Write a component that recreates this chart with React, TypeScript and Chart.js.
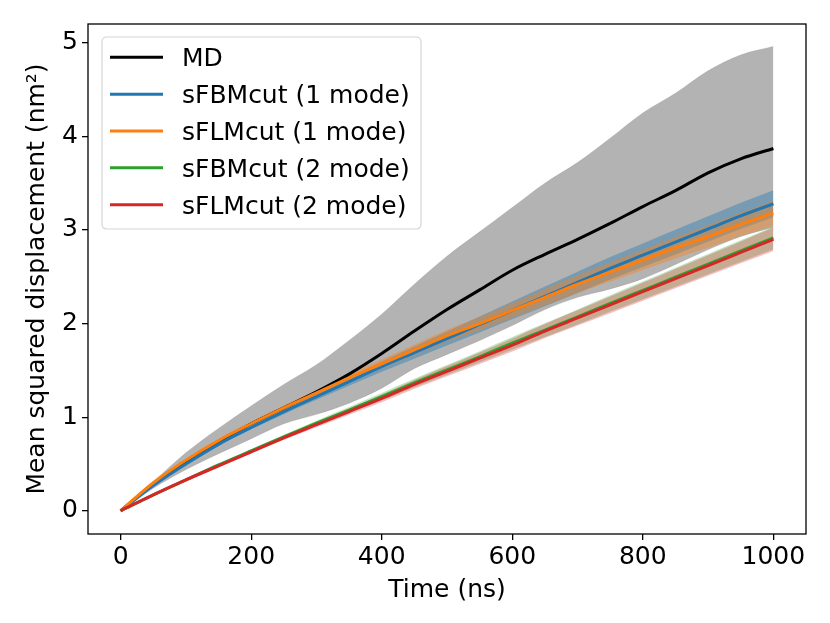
import React, { useEffect, useRef } from 'react';
import { Chart, registerables } from 'chart.js';

Chart.register(...registerables);

// ---- data ----
const times = [0, 50, 100, 150, 200, 250, 300, 350, 400, 450, 500, 550, 600, 650, 700, 750, 800, 850, 900, 950, 1000];

const mdMean = [0, 0.29, 0.53, 0.74, 0.93, 1.1, 1.27, 1.46, 1.68, 1.92, 2.15, 2.36, 2.57, 2.74, 2.9, 3.07, 3.25, 3.42, 3.61, 3.76, 3.87];
const mdUpper = [0, 0.31, 0.62, 0.88, 1.12, 1.35, 1.56, 1.82, 2.1, 2.42, 2.72, 2.98, 3.24, 3.5, 3.72, 3.98, 4.25, 4.46, 4.7, 4.87, 4.96];
const mdLower = [0, 0.24, 0.44, 0.61, 0.77, 0.93, 1.03, 1.15, 1.31, 1.52, 1.67, 1.82, 1.98, 2.15, 2.28, 2.37, 2.48, 2.63, 2.79, 2.93, 3.03];

const fbm1 = [0, 0.27, 0.5, 0.71, 0.89, 1.06, 1.22, 1.38, 1.54, 1.69, 1.84, 1.99, 2.14, 2.29, 2.44, 2.59, 2.73, 2.87, 3.01, 3.15, 3.28];
const fbm1Half = [0, 0.005, 0.01, 0.015, 0.02, 0.028, 0.035, 0.045, 0.055, 0.065, 0.075, 0.085, 0.095, 0.105, 0.113, 0.12, 0.126, 0.132, 0.137, 0.141, 0.145];

const flm1 = [0, 0.3, 0.54, 0.75, 0.93, 1.1, 1.26, 1.42, 1.57, 1.72, 1.87, 2.0, 2.14, 2.28, 2.42, 2.55, 2.68, 2.81, 2.93, 3.06, 3.18];
const flm1Half = [0, 0.005, 0.01, 0.015, 0.02, 0.025, 0.03, 0.04, 0.048, 0.056, 0.064, 0.072, 0.08, 0.088, 0.095, 0.102, 0.108, 0.114, 0.12, 0.127, 0.135];

const fbm2 = [0, 0.17, 0.33, 0.49, 0.64, 0.79, 0.935, 1.075, 1.22, 1.365, 1.505, 1.645, 1.79, 1.93, 2.07, 2.215, 2.355, 2.495, 2.635, 2.775, 2.915];
const fbm2Half = [0, 0.004, 0.008, 0.012, 0.017, 0.022, 0.027, 0.033, 0.039, 0.045, 0.052, 0.059, 0.066, 0.073, 0.08, 0.087, 0.094, 0.101, 0.108, 0.114, 0.12];

const flm2 = [0, 0.17, 0.33, 0.48, 0.63, 0.78, 0.92, 1.06, 1.2, 1.35, 1.49, 1.63, 1.77, 1.92, 2.06, 2.2, 2.34, 2.48, 2.62, 2.76, 2.9];
const flm2Half = [0, 0.004, 0.008, 0.012, 0.017, 0.022, 0.027, 0.033, 0.04, 0.047, 0.054, 0.061, 0.068, 0.075, 0.082, 0.089, 0.096, 0.103, 0.11, 0.117, 0.125];

const xTicks = [0, 200, 400, 600, 800, 1000];
const yTicks = [0, 1, 2, 3, 4, 5];

const seriesNames = ['MD', 'sFBMcut (1 mode)', 'sFLMcut (1 mode)', 'sFBMcut (2 mode)', 'sFLMcut (2 mode)'];
const seriesColors = ['#000000', '#1f77b4', '#ff7f0e', '#2ca02c', '#d62728'];
const bandColors = [
  'rgba(128,128,128,0.6)',
  'rgba(31,119,180,0.4)',
  'rgba(255,127,14,0.4)',
  'rgba(44,160,44,0.3)',
  'rgba(214,39,40,0.3)',
];

const FONT = "'DejaVu Sans', 'Liberation Sans', sans-serif";
const FS = 25;

const pts = (ys: number[]) => times.map((t, i) => ({ x: t, y: ys[i] }));

export default function App() {
  const canvasRef = useRef<HTMLCanvasElement | null>(null);

  useEffect(() => {
    const canvas = canvasRef.current;
    if (!canvas) return;

    const means = [mdMean, fbm1, flm1, fbm2, flm2];
    const uppers = [
      mdUpper,
      fbm1.map((v, i) => v + fbm1Half[i]),
      flm1.map((v, i) => v + flm1Half[i]),
      fbm2.map((v, i) => v + fbm2Half[i]),
      flm2.map((v, i) => v + flm2Half[i]),
    ];
    const lowers = [
      mdLower,
      fbm1.map((v, i) => v - fbm1Half[i]),
      flm1.map((v, i) => v - flm1Half[i]),
      fbm2.map((v, i) => v - fbm2Half[i]),
      flm2.map((v, i) => v - flm2Half[i]),
    ];

    // Chart.js draws higher `order` first (underneath). Bands first, then lines.
    const datasets: any[] = [];
    const n = means.length;
    for (let s = 0; s < n; s++) {
      const upIdx = datasets.length;
      datasets.push({
        label: seriesNames[s] + ' upper',
        data: pts(uppers[s]),
        borderWidth: s === 0 ? 1 : 0,
        borderColor: s === 0 ? 'rgba(128,128,128,0.25)' : 'rgba(0,0,0,0)',
        backgroundColor: bandColors[s],
        fill: { target: upIdx + 1 },
        pointRadius: 0,
        cubicInterpolationMode: 'monotone',
        order: 1000 - s * 2,
      });
      datasets.push({
        label: seriesNames[s] + ' lower',
        data: pts(lowers[s]),
        borderWidth: s === 0 ? 1 : 0,
        borderColor: s === 0 ? 'rgba(128,128,128,0.25)' : 'rgba(0,0,0,0)',
        fill: false,
        pointRadius: 0,
        cubicInterpolationMode: 'monotone',
        order: 999 - s * 2,
      });
    }
    for (let s = 0; s < n; s++) {
      datasets.push({
        label: seriesNames[s],
        data: pts(means[s]),
        borderColor: seriesColors[s],
        borderWidth: 3,
        fill: false,
        pointRadius: 0,
        cubicInterpolationMode: 'monotone',
        order: 100 - s,
      });
    }

    const framePlugin = {
      id: 'frame',
      afterDraw(chart: any) {
        const { ctx, chartArea } = chart;
        ctx.save();
        ctx.strokeStyle = '#000';
        ctx.lineWidth = 1.3;
        ctx.strokeRect(chartArea.left, chartArea.top, chartArea.right - chartArea.left, chartArea.bottom - chartArea.top);
        ctx.restore();

        // legend
        const bx = 102, by = 37, bw = 319, bh = 192, r = 5;
        ctx.save();
        ctx.beginPath();
        ctx.moveTo(bx + r, by);
        ctx.lineTo(bx + bw - r, by);
        ctx.quadraticCurveTo(bx + bw, by, bx + bw, by + r);
        ctx.lineTo(bx + bw, by + bh - r);
        ctx.quadraticCurveTo(bx + bw, by + bh, bx + bw - r, by + bh);
        ctx.lineTo(bx + r, by + bh);
        ctx.quadraticCurveTo(bx, by + bh, bx, by + bh - r);
        ctx.lineTo(bx, by + r);
        ctx.quadraticCurveTo(bx, by, bx + r, by);
        ctx.closePath();
        ctx.fillStyle = 'rgba(255,255,255,0.8)';
        ctx.fill();
        ctx.strokeStyle = '#d6d6d6';
        ctx.lineWidth = 1.2;
        ctx.stroke();

        ctx.font = `${FS}px ${FONT}`;
        ctx.textBaseline = 'alphabetic';
        ctx.textAlign = 'left';
        for (let i = 0; i < seriesNames.length; i++) {
          const cy = 57.3 + i * 36.85;
          ctx.strokeStyle = seriesColors[i];
          ctx.lineWidth = 3;
          ctx.beginPath();
          ctx.moveTo(110, cy);
          ctx.lineTo(163, cy);
          ctx.stroke();
          ctx.fillStyle = '#000';
          ctx.fillText(seriesNames[i], 182, cy + 9);
        }
        ctx.restore();
      },
    };

    const tickFont = { family: FONT, size: FS, lineHeight: 1.2 };

    const chart = new Chart(canvas, {
      type: 'line',
      data: { datasets },
      options: {
        animation: false,
        responsive: false,
        layout: { padding: { top: 24, right: 24, left: 0, bottom: 0 } },
        plugins: {
          legend: { display: false },
          tooltip: { enabled: false },
        },
        scales: {
          x: {
            type: 'linear',
            min: -50,
            max: 1050,
            afterBuildTicks: (scale: any) => {
              scale.ticks = xTicks.map((v) => ({ value: v }));
            },
            afterFit: (scale: any) => {
              scale.height = 89;
            },
            ticks: {
              autoSkip: false,
              maxRotation: 0,
              padding: 2,
              color: '#000',
              font: tickFont,
              callback: (v: any) => String(v),
            },
            grid: {
              display: true,
              drawOnChartArea: false,
              drawTicks: true,
              tickLength: 6,
              color: '#000',
              lineWidth: 1.3,
            },
            border: { display: false },
            title: {
              display: true,
              text: 'Time (ns)',
              color: '#000',
              font: tickFont,
              padding: { top: 0, bottom: 18 },
            },
          },
          y: {
            type: 'linear',
            min: -0.248,
            max: 5.2,
            afterBuildTicks: (scale: any) => {
              scale.ticks = yTicks.map((v) => ({ value: v }));
            },
            afterFit: (scale: any) => {
              scale.width = 88;
            },
            ticks: {
              autoSkip: false,
              padding: 4,
              color: '#000',
              font: tickFont,
              callback: (v: any) => String(v),
            },
            grid: {
              display: true,
              drawOnChartArea: false,
              drawTicks: true,
              tickLength: 6,
              color: '#000',
              lineWidth: 1.3,
            },
            border: { display: false },
            title: {
              display: true,
              text: 'Mean squared displacement (nm²)',
              color: '#000',
              font: tickFont,
              padding: { top: 22, bottom: 0 },
            },
          },
        },
      } as any,
      plugins: [framePlugin],
    });

    return () => {
      chart.destroy();
    };
  }, []);

  return (
    <div style={{ position: 'fixed', left: 0, top: 0, width: 830, height: 623, background: '#fff' }}>
      <canvas ref={canvasRef} width={830} height={623} style={{ display: 'block' }} />
    </div>
  );
}
